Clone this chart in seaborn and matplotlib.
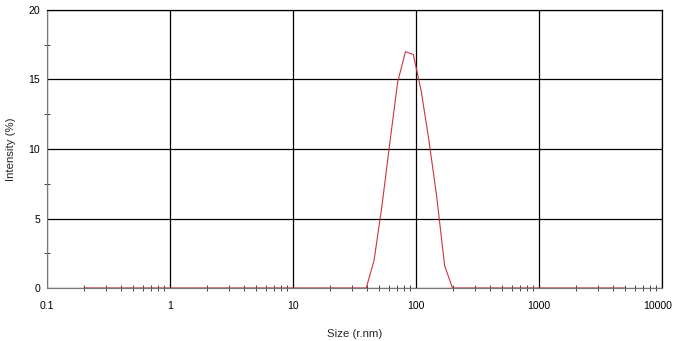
import matplotlib
matplotlib.use('Agg')
from matplotlib import pyplot as plt
from matplotlib import transforms
from matplotlib.ticker import LogLocator, MultipleLocator, FixedLocator, FixedFormatter, NullFormatter
import seaborn as sns
import pandas as pd

# size bins (r.nm), log spaced as on the instrument
size_nm = [
    0.2, 0.2316, 0.2683, 0.3107, 0.3598, 0.4166, 0.4825, 0.5588, 0.6471, 0.7494,
    0.8678, 1.005, 1.164, 1.348, 1.561, 1.807, 2.093, 2.424, 2.807, 3.251,
    3.765, 4.360, 5.049, 5.848, 6.772, 7.842, 9.082, 10.52, 12.18, 14.11,
    16.34, 18.92, 21.91, 25.37, 29.38, 34.02, 39.41, 45.64, 52.85, 61.21,
    70.89, 82.10, 95.07, 110.1, 127.5, 147.7, 171.0, 198.1, 229.4, 265.6,
    307.6, 356.3, 412.6, 477.8, 553.4, 640.9, 742.2, 859.6, 995.0, 1152,
    1335, 1546, 1790, 2073, 2401, 2780, 3220, 3728, 4318, 5000,
]
intensity = [0.0] * 37 + [2.0, 5.9, 10.4, 14.8, 17.0, 16.8, 14.2, 10.6, 6.5, 1.6] + [0.0] * 23

x_ticks = [0.1, 1, 10, 100, 1000, 10000]
x_labels = ['0.1', '1', '10', '100', '1000', '10000']
y_ticks = [0, 5, 10, 15, 20]

df = pd.DataFrame({'size': size_nm, 'intensity': intensity})

sns.set_style('white')
plt.rcParams['font.family'] = ['Liberation Sans', 'DejaVu Sans']

fig = plt.figure(figsize=(6.74, 3.41), dpi=100)
ax = fig.add_axes([0.0697, 0.1554, 0.9125, 0.8153])

sns.lineplot(data=df, x='size', y='intensity', ax=ax, color='#cc3340', linewidth=0.8)

ax.set_xscale('log')
ax.set_xlim(0.1, 10000)
ax.set_ylim(0, 20)

ax.xaxis.set_major_locator(FixedLocator(x_ticks))
ax.xaxis.set_major_formatter(FixedFormatter(x_labels))
ax.xaxis.set_minor_locator(LogLocator(base=10, subs=range(2, 10)))
ax.xaxis.set_minor_formatter(NullFormatter())
ax.yaxis.set_major_locator(FixedLocator(y_ticks))
ax.yaxis.set_minor_locator(MultipleLocator(2.5))

ax.grid(True, which='major', color='black', linewidth=0.9)
ax.tick_params(which='both', bottom=True, left=True)
ax.tick_params(which='major', length=0, labelsize=7.6, pad=9, colors='black')
ax.tick_params(axis='y', which='major', pad=5)
ax.tick_params(which='minor', direction='inout', length=5, width=0.7, color='#444444')

# last label sits right of its tick and must stay inside the image
fig.canvas.draw()
last = ax.get_xticklabels()[-1]
last.set_horizontalalignment('right')
last.set_transform(last.get_transform() + transforms.ScaledTranslation(0.10, 0, fig.dpi_scale_trans))

for side in ['left', 'bottom']:
    ax.spines[side].set_color('#777777')
    ax.spines[side].set_linewidth(0.8)
for side in ['top', 'right']:
    ax.spines[side].set_color('black')
    ax.spines[side].set_linewidth(0.9)

ax.set_xlabel('Size (r.nm)', fontsize=8.2, labelpad=13)
ax.set_ylabel('Intensity (%)', fontsize=8.2, labelpad=9)

fig.savefig('out.png', dpi=100)
